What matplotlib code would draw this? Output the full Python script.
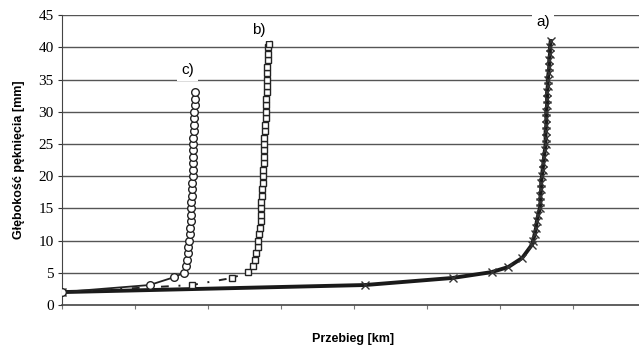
import matplotlib
matplotlib.use("Agg")
import matplotlib.pyplot as plt

# curve a) - crosses
a_x = [0, 4.15, 5.35, 5.88, 6.11, 6.30, 6.43,
       6.45, 6.47, 6.49, 6.50, 6.52, 6.54,
       6.55, 6.55, 6.56, 6.56, 6.57,
       6.58, 6.59, 6.60, 6.61, 6.62,
       6.62, 6.62, 6.63, 6.63, 6.63,
       6.64, 6.64, 6.64, 6.65, 6.65,
       6.66, 6.67, 6.67, 6.68, 6.68, 6.69]
a_y = [2, 3.1, 4.2, 5.1, 5.9, 7.3, 9.3,
       10, 11, 12, 13, 14, 15,
       16, 17, 18, 19, 20,
       21, 22, 23, 24, 25,
       26, 27, 28, 29, 30,
       31, 32, 33, 34, 35,
       36, 37, 38, 39, 40, 41]

# curve b) - squares
b_x = [0, 1.78, 2.33, 2.55,
       2.62, 2.64, 2.66, 2.68, 2.69, 2.70, 2.71, 2.72, 2.72, 2.73,
       2.73, 2.74, 2.74, 2.75, 2.75,
       2.75, 2.76, 2.76, 2.77, 2.77,
       2.77, 2.78, 2.78, 2.79, 2.79,
       2.79, 2.79, 2.80, 2.80, 2.80,
       2.81, 2.81, 2.82, 2.82, 2.82, 2.83]
b_y = [2, 3.1, 4.2, 5.1,
       6, 7, 8, 9, 10, 11, 12, 13, 14, 15,
       16, 17, 18, 19, 20,
       21, 22, 23, 24, 25,
       26, 27, 28, 29, 30,
       31, 32, 33, 34, 35,
       36, 37, 38, 39, 40, 40.6]

# curve c) - circles
c_x = [0, 1.2, 1.53, 1.67,
       1.70, 1.71, 1.72, 1.73, 1.74,
       1.75, 1.75, 1.76, 1.76, 1.77,
       1.77, 1.78, 1.78, 1.78, 1.79,
       1.79, 1.79, 1.80, 1.80, 1.80,
       1.80, 1.81, 1.81, 1.81, 1.81,
       1.82, 1.82, 1.82]
c_y = [2, 3.1, 4.3, 5.0,
       6, 7, 8, 9, 10,
       11, 12, 13, 14, 15,
       16, 17, 18, 19, 20,
       21, 22, 23, 24, 25,
       26, 27, 28, 29, 30,
       31, 32, 33]

y_ticks = [0, 5, 10, 15, 20, 25, 30, 35, 40, 45]

fig = plt.figure(figsize=(6.39, 3.45), dpi=100)
ax = fig.add_axes([0.097, 0.116, 0.91, 0.84])

for y in y_ticks[1:]:
    ax.axhline(y, color="#555555", lw=1.0, zorder=1)

ax.plot(a_x, a_y, color="#1a1a1a", lw=2.8, marker="x", ms=5.5, mew=1.0,
        mec="#333333", zorder=3)
ax.plot(b_x, b_y, color="#222222", lw=1.4, ls=(0, (1, 5, 4, 5)),
        marker="s", ms=5, mfc="white", mec="#222222", mew=1.0, zorder=4)
ax.plot(c_x, c_y, color="#222222", lw=1.3, marker="o", ms=5.5,
        mfc="white", mec="#222222", mew=1.0, zorder=5)

box = dict(facecolor="white", edgecolor="none", pad=3)
ax.text(6.59, 43.9, "a)", ha="center", va="center", fontsize=11,
        family="Liberation Sans", bbox=box, zorder=6)
ax.text(2.70, 42.7, "b)", ha="center", va="center", fontsize=11,
        family="Liberation Sans", bbox=box, zorder=6)
ax.text(1.72, 36.5, "c)", ha="center", va="center", fontsize=11,
        family="Liberation Sans", bbox=box, zorder=6)

ax.set_xlim(0, 7.96)
ax.set_ylim(0, 45)
ax.set_yticks(y_ticks)
ax.set_yticklabels([str(v) for v in y_ticks], family="Liberation Serif",
                   fontsize=11)
ax.set_xticks(range(0, 8))
ax.set_xticklabels([])
ax.tick_params(axis="x", length=3, color="#777777")
ax.tick_params(axis="y", length=3, color="#333333", pad=3)

for s in ["top", "right"]:
    ax.spines[s].set_visible(False)
ax.spines["left"].set_color("#444444")
ax.spines["bottom"].set_color("#444444")
ax.spines["bottom"].set_linewidth(1.2)

ax.set_ylabel("Głębokość pęknięcia [mm]", family="Liberation Sans",
              fontweight="bold", fontsize=9, labelpad=10)
ax.set_xlabel("Przebieg [km]", family="Liberation Sans",
              fontweight="bold", fontsize=9, labelpad=14)

fig.savefig("out.png", dpi=100)
